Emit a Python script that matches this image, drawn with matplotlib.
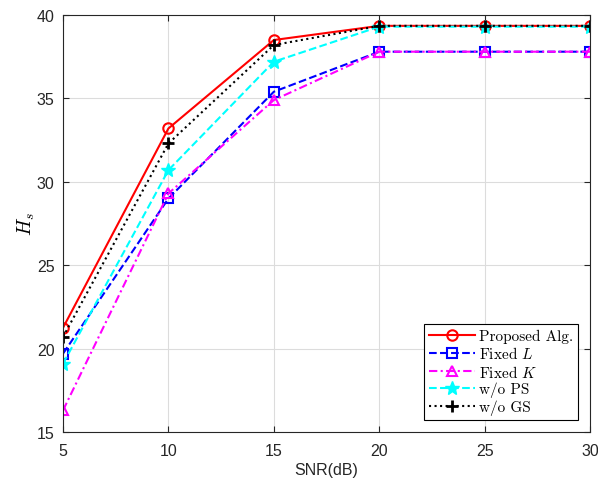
import numpy as np
import matplotlib
matplotlib.use('Agg')
import matplotlib.pyplot as plt

# SNR sweep and secrecy metric per scheme
snr = [5, 10, 15, 20, 25, 30]
proposed = [21.25, 33.2, 38.5, 39.35, 39.35, 39.35]
fixed_l = [19.7, 29.0, 35.4, 37.8, 37.8, 37.8]
fixed_k = [16.3, 29.3, 34.9, 37.8, 37.8, 37.8]
wo_ps = [19.1, 30.7, 37.2, 39.3, 39.3, 39.3]
wo_gs = [20.7, 32.3, 38.2, 39.35, 39.35, 39.35]

plt.rcParams['mathtext.fontset'] = 'cm'
plt.rcParams['font.family'] = ['Liberation Sans', 'DejaVu Sans']

fig = plt.figure(figsize=(5.98, 4.85), dpi=100)
ax = fig.add_axes([0.1054, 0.1072, 0.8813, 0.8598])

ax.plot(snr, proposed, '-', color='red', lw=1.5, marker='o', ms=7.5, mfc='none', mew=1.5, label='Proposed Alg.')
ax.plot(snr, fixed_l, '--', color='blue', lw=1.5, marker='s', ms=6.5, mfc='none', mew=1.5, label='Fixed $L$')
ax.plot(snr, fixed_k, color='magenta', lw=1.5, dashes=(4, 1.6, 1, 1.6), marker='^', ms=7.5, mfc='none', mew=1.5, label='Fixed $K$')
ax.plot(snr, wo_ps, '--', color='cyan', lw=1.5, marker='*', ms=10, mfc='cyan', mew=1.0, label='w/o PS')
ax.plot(snr, wo_gs, ':', color='black', lw=1.5, marker='+', ms=8, mew=2.0, label='w/o GS')

ax.set_xlim(5, 30)
ax.set_ylim(15, 40)
ax.set_xticks(snr)
ax.set_yticks([15, 20, 25, 30, 35, 40])
ax.grid(True, color='#dcdcdc', lw=0.8)
ax.set_axisbelow(True)
ax.tick_params(direction='in', top=True, right=True, labelsize=11.5, length=4,
               color='#262626', labelcolor='#262626')
ax.tick_params(axis='x', pad=8)
ax.tick_params(axis='y', pad=6)
for s in ax.spines.values():
    s.set_color('#262626')
    s.set_linewidth(0.8)

ax.set_xlabel('SNR(dB)', fontsize=11.5, color='#262626', labelpad=3)
ax.set_ylabel('$H_s$', fontsize=14, labelpad=0)

leg = ax.legend(loc='lower right', prop={'family': 'cmr10', 'size': 11}, fancybox=False,
                edgecolor='black', framealpha=1, borderpad=0.3, labelspacing=0.15,
                handlelength=3.0, handletextpad=0.3, borderaxespad=0.8)
leg.get_frame().set_linewidth(0.8)

fig.savefig('out.png', dpi=100)
